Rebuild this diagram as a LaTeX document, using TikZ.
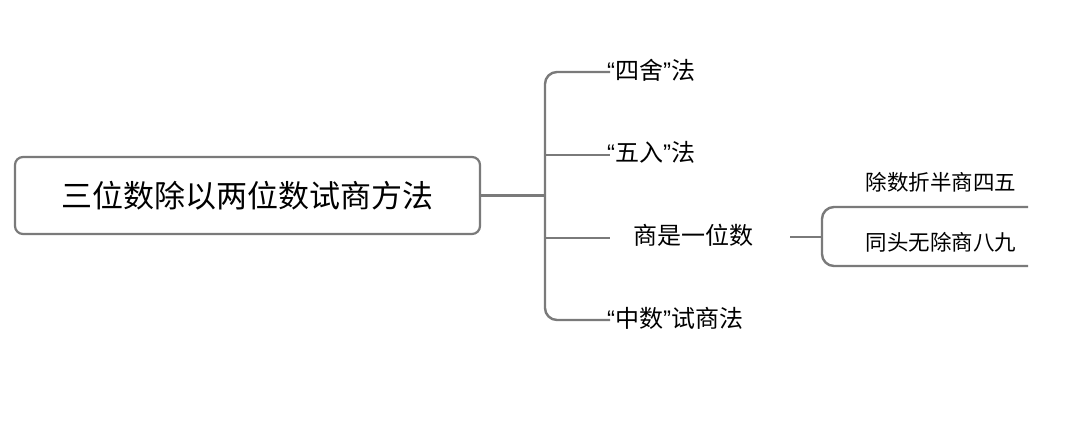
\documentclass[tikz,border=0pt]{standalone}
\usepackage{fontspec}
\setmainfont{Noto Sans CJK SC}
\newfontfamily\quotefont{Liberation Sans}
\usetikzlibrary{positioning}
\definecolor{linegray}{HTML}{7A7A7A}
\newcommand{\oq}{{\quotefont “}}
\newcommand{\cq}{{\quotefont ”}}
\tikzset{
  branch/.style={line width=2.4pt, draw=linegray, rounded corners=12pt},
  leaf/.style={anchor=west, font=\fontsize{24}{28}\selectfont, inner sep=0pt},
  subleaf/.style={anchor=center, font=\fontsize{21.5}{25}\selectfont, inner sep=0pt}
}
\begin{document}
\begin{tikzpicture}[x=1pt, y=-1pt]
\useasboundingbox (0,0) rectangle (1080,427);

% --- root ---
\node[draw=linegray, line width=2.2pt, rounded corners=8pt, minimum width=465pt,
      minimum height=77pt, font=\fontsize{31}{36}\selectfont] (root) at (247.5,195.5) {三位数除以两位数试商方法};

% --- first level ---
\node[leaf] (sishe) at (607,70) {\oq 四舍\cq 法};
\node[leaf] (wuru) at (607,152) {\oq 五入\cq 法};
\node[leaf] (yiwei) at (633,235) {商是一位数};
\node[leaf] (zhongshu) at (607,318) {\oq 中数\cq 试商法};

\coordinate (hub) at (545,195.5);
\coordinate (tip) at (610,0);
\draw[branch] (root.east) -- (hub);
\draw[branch] (tip |- 0,72) -- (hub |- 0,72) -- (hub |- 0,320) -- (tip |- 0,320);
\draw[branch] (hub |- 0,155) -- (tip |- 0,155);
\draw[branch] (hub |- 0,238) -- (tip |- 0,238);

% --- second level ---
\node[subleaf] (zheban) at (941,182) {除数折半商四五};
\node[subleaf] (tongtou) at (941,242) {同头无除商八九};

\coordinate (stub) at (790,237);
\coordinate (bar) at (822,237);
\draw[branch] (stub) -- (bar);
\draw[branch] (1028,207) -- (bar |- 0,207) -- (bar |- 0,266) -- (1028,266);
\end{tikzpicture}
\end{document}
